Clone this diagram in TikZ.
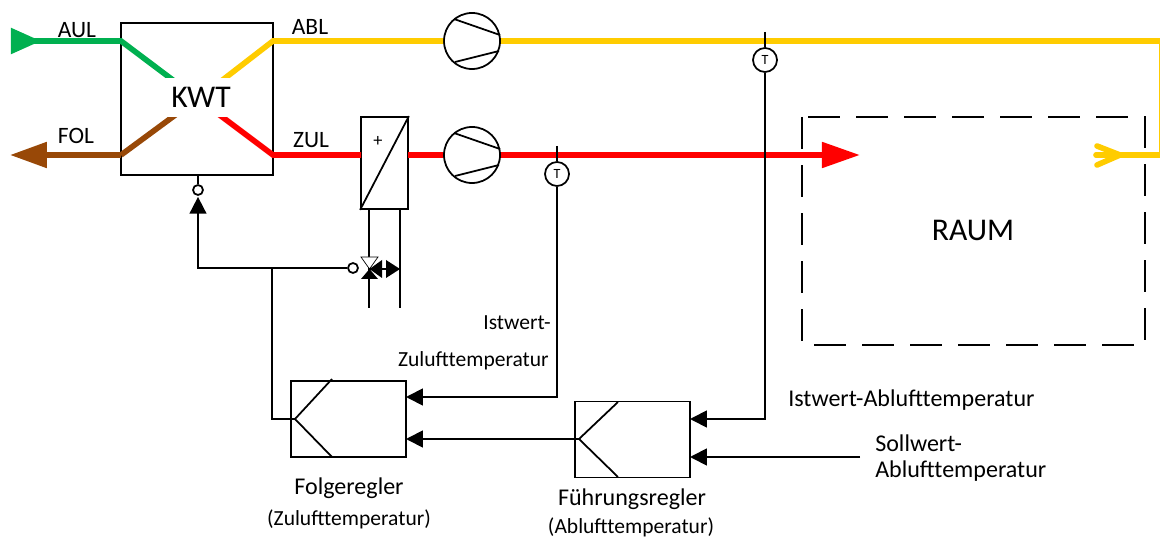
\documentclass[tikz,border=0pt]{standalone}
\usepackage{fontspec}
\setmainfont{Carlito}
\usepackage{tikz}
\usetikzlibrary{calc, arrows.meta}
\definecolor{aulgreen}{HTML}{00B050}
\definecolor{ablyellow}{HTML}{FFCC00}
\definecolor{zulred}{HTML}{FF0000}
\definecolor{folbrown}{HTML}{984807}
\tikzset{
	>={Triangle[length=0.42cm,width=0.42cm]},
	duct/.style={line width=4pt},
	wire/.style={line width=1.25pt, black},
	block/.style={draw=black, line width=1.25pt, fill=white, inner sep=0pt},
	fanbox/.style={block, circle, minimum size=1.4cm},
	sensor/.style={block, circle, minimum size=0.6cm, font=\fontsize{10}{10}\selectfont},
	actuator/.style={block, circle, minimum size=0.25cm},
	reglerbox/.style={block, minimum width=2.875cm, minimum height=1.9cm},
	bigtext/.style={font=\fontsize{22.5}{22.5}\selectfont, inner sep=0pt},
	ducttext/.style={font=\fontsize{16.7}{16.7}\selectfont, inner sep=0pt},
	smalltext/.style={font=\fontsize{15.3}{15.3}\selectfont, inner sep=0pt},
	midtext/.style={font=\fontsize{17.1}{17.1}\selectfont, inner sep=0pt},
	ductarrow/.style={-{Triangle[length=#1,width=0.62cm]}},
}
\begin{document}
\begin{tikzpicture}[x=0.025cm, y=-0.025cm]
	\useasboundingbox (0,0) rectangle (1160,538);

	\draw[dash pattern=on 0.8cm off 0.4cm, wire] (802,117) rectangle (1145,345);
	\node[bigtext] (raum) at (973,230) {RAUM};

	\node[block, minimum size=3.8cm] (kwt) at (197,99) {};

	\node[block, minimum width=1.175cm, minimum height=2.3cm] (heater) at (384.5,163) {};
	\node[font=\fontsize{13}{13}\selectfont, inner sep=0pt] (plus) at (378,141) {+};
	\draw[wire] (heater.north east) -- (heater.south west);

	\node[fanbox] (fanabl) at (472,41) {};
	\node[fanbox] (fanzul) at (472,155) {};
	\draw[wire] (454,19) -- (500,35);
	\draw[wire] (455,62) -- (499,51);
	\draw[wire] (454,133) -- (500,149);
	\draw[wire] (455,176) -- (499,165);

	\coordinate (aulstart) at (11,41);
	\coordinate (aulneck) at (34,41);
	\coordinate (aultip) at (41,41);
	\coordinate (aulin) at (121,41);
	\coordinate (aulend) at (175.5,82);
	\coordinate (folin) at (121,155);
	\coordinate (folend) at (178,113);
	\coordinate (foltip) at (10,155);
	\coordinate (ablin) at (273,41);
	\coordinate (ablend) at (220,82);
	\coordinate (ablcorner) at (1160,41);
	\coordinate (ablback) at (1160,155);
	\coordinate (ablfork) at (1120,155);
	\coordinate (zulin) at (273,155);
	\coordinate (zulend) at (217,113);
	\coordinate (zultip) at (860,155);
	\coordinate (heaterin) at (361,155);
	\coordinate (heaterout) at (408,155);

	\draw[duct, aulgreen, ductarrow=0.75cm] (aulstart) -- (aultip);
	\draw[duct, aulgreen] (aulneck) -- (aulin) -- (aulend);
	\draw[duct, folbrown, ductarrow=0.92cm] (folin) -- (foltip);
	\draw[duct, folbrown] (folin) -- (folend);
	\draw[duct, ablyellow] (ablend) -- (ablin) -- (fanabl);
	\draw[duct, ablyellow] (fanabl) -- (ablcorner);
	\draw[line width=2pt, ablyellow] (ablcorner) -- (ablback);
	\draw[duct, ablyellow] (ablback) -- (ablfork);
	\draw[duct, ablyellow, line cap=round, line join=round] (1097,146) -- (ablfork) -- (1097,165);
	\draw[duct, ablyellow, line cap=round] (1096,155) -- (ablfork);
	\draw[duct, zulred] (zulend) -- (zulin) -- (heaterin);
	\draw[duct, zulred] (heaterout) -- (fanzul);
	\draw[duct, zulred, ductarrow=0.95cm] (fanzul) -- (zultip);

	\node[bigtext, fill=white, minimum width=2cm, minimum height=0.975cm] (kwttext) at (201,97.5) {KWT};

	\node[ducttext] (aul) at (77,30) {AUL};
	\node[ducttext] (abl) at (310,27) {ABL};
	\node[ducttext] (fol) at (76,136) {FOL};
	\node[ducttext] (zul) at (311,140) {ZUL};

	\node[sensor] (sensorzul) at (557,174) {T};
	\node[sensor] (sensorabl) at (765,60) {T};
	\coordinate (stemzul) at (557,146);
	\coordinate (stemabl) at (765,32);
	\draw[wire] (stemzul) -- (sensorzul);
	\draw[wire] (stemabl) -- (sensorabl);

	\node[reglerbox] (folge) at (348.5,419) {};
	\node[reglerbox] (fuehrung) at (632.5,439.5) {};
	\coordinate (folgetip) at (295,419);
	\coordinate (fuehrungtip) at (579,439);
	\draw[wire] (332,379) -- (folgetip) -- (332,457);
	\draw[wire] (618,402) -- (fuehrungtip) -- (618,477);

	\coordinate (folgeist) at (406,397);
	\coordinate (folgesoll) at (406,439);
	\coordinate (fuehrungist) at (690,419);
	\coordinate (fuehrungsoll) at (690,457);
	\coordinate (sollstart) at (860,457);
	\draw[wire, ->] (sensorzul) |- (folgeist);
	\draw[wire, ->] (fuehrungtip) -- (folgesoll);
	\draw[wire, ->] (sensorabl) |- (fuehrungist);
	\draw[wire, ->] (sollstart) -- (fuehrungsoll);

	\coordinate (pipeaTop) at (369.2,209);
	\coordinate (pipeaEnd) at (369.2,308);
	\coordinate (pipebTop) at (400,209);
	\coordinate (pipebEnd) at (400,308);
	\draw[wire] (pipeaTop) -- (pipeaEnd);
	\draw[wire] (pipebTop) -- (pipebEnd);

	\coordinate (valve) at (369.5,269);
	\coordinate (bypass) at (400,269);
	\draw[wire] (valve) -- (bypass);
	\draw[draw=black, line width=0.5pt, fill=white] (361,257) -- (378,257) -- (valve) -- cycle;
	\fill[black] (361,279) -- (378,279) -- (valve) -- cycle;
	\fill[black] (382,260) -- (382,278) -- (valve) -- cycle;
	\fill[black] (386,260) -- (386,278) -- (bypass) -- cycle;

	\node[actuator] (valvedrive) at (353,268) {};
	\node[actuator] (kwtdrive) at (198,190) {};
	\coordinate (kwtbottom) at (198,175);
	\coordinate (drivecorner) at (198,268);
	\coordinate (drivejoin) at (272,268);
	\coordinate (folgeout) at (272,419);
	\draw[wire] (kwtbottom) -- (kwtdrive);
	\draw[wire, ->] (valvedrive) -- (drivecorner) -- ($(kwtdrive.south)+(0,1)$);
	\draw[wire] (folgetip) -- (folgeout) -- (drivejoin);

	\node[smalltext, anchor=east] (istzul) at (551,323) {Istwert-};
	\node[smalltext, anchor=east] (zultemp) at (549,361) {Zulufttemperatur};
	\node[midtext, anchor=west] (istabl) at (788,400) {Istwert-Ablufttemperatur};
	\node[midtext, anchor=west] (sollabl) at (875,443) {Sollwert-};
	\node[midtext, anchor=west] (abltemp) at (875,471) {Ablufttemperatur};
	\node[midtext] (folgetext) at (349,488) {Folgeregler};
	\node[smalltext] (folgesub) at (349,519) {(Zulufttemperatur)};
	\node[midtext] (fuehrungtext) at (632,499) {Führungsregler};
	\node[smalltext] (fuehrungsub) at (631,527) {(Ablufttemperatur)};
\end{tikzpicture}
\end{document}
